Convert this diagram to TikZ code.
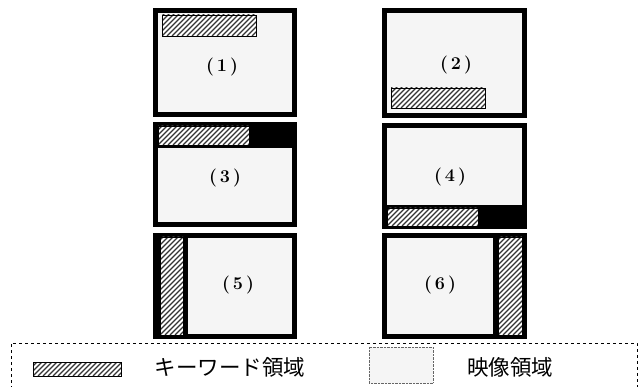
\documentclass[tikz,border=0pt]{standalone}
\usepackage{fontspec}
\newfontfamily\jpfont{Noto Sans CJK JP}
\begin{document}
\begin{tikzpicture}[x=1pt,y=-1pt,
  frame/.style={fill=black},
  imgarea/.style={fill=black!4},
  hatch/.style={draw=black, line width=0.7pt, fill=white,
    path picture={\foreach \i in {-120,-115,...,130}{\draw[line width=1.1pt, black!80] ([xshift=\i pt]path picture bounding box.south west) -- ++(150pt,150pt);}}},
  numlabel/.style={font=\fontsize{18}{18}\selectfont\bfseries},
  legtext/.style={font=\jpfont\fontsize{21.5}{22}\selectfont, anchor=center}]
\useasboundingbox (0,0) rectangle (640,387);
\fill[white] (0,0) rectangle (640,387);
% Box 1
\fill[frame] (153,8) rectangle (297,117);
\fill[imgarea] (158,13) rectangle (292,112);
\path[hatch] (162,15) rectangle (256,36);
\node[numlabel] (l1) at (222,67) {(\hspace{3pt}1\hspace{3pt})};
% Box 2
\fill[frame] (382,8) rectangle (527,118);
\fill[imgarea] (387,13) rectangle (522,113);
\path[hatch] (391,88) rectangle (485,108);
\node[numlabel] (l2) at (456,65) {(\hspace{3pt}2\hspace{3pt})};
% Box 3
\fill[frame] (153,122) rectangle (297,227);
\fill[imgarea] (158,148) rectangle (292,222);
\path[hatch] (158,126) rectangle (249,145);
\node[numlabel] (l3) at (225,178) {(\hspace{3pt}3\hspace{3pt})};
% Box 4
\fill[frame] (382,123) rectangle (527,229);
\fill[imgarea] (387,128) rectangle (522,205);
\path[hatch] (387,208) rectangle (478,226);
\node[numlabel] (l4) at (450,177) {(\hspace{3pt}4\hspace{3pt})};
% Box 5
\fill[frame] (153,233) rectangle (297,339);
\fill[imgarea] (188,238) rectangle (292,334);
\path[hatch] (160,237) rectangle (183,335);
\node[numlabel] (l5) at (238,285) {(\hspace{3pt}5\hspace{3pt})};
% Box 6
\fill[frame] (382,233) rectangle (527,339);
\fill[imgarea] (387,238) rectangle (493,334);
\path[hatch] (498,237) rectangle (522,335);
\node[numlabel] (l6) at (440,285) {(\hspace{3pt}6\hspace{3pt})};
% Legend
\fill[white] (11,343) rectangle (637,395);
\draw[dashed, line width=0.8pt] (11,395) -- (11,343) -- (637,343) -- (637,395);
\path[hatch] (33,362) rectangle (121,376);
\node[legtext] (k) at (230,367) {キーワード領域};
\path[imgarea, draw=black!60, densely dotted] (369,347) rectangle (433,383);
\node[legtext] (v) at (510,367) {映像領域};
\end{tikzpicture}
\end{document}
